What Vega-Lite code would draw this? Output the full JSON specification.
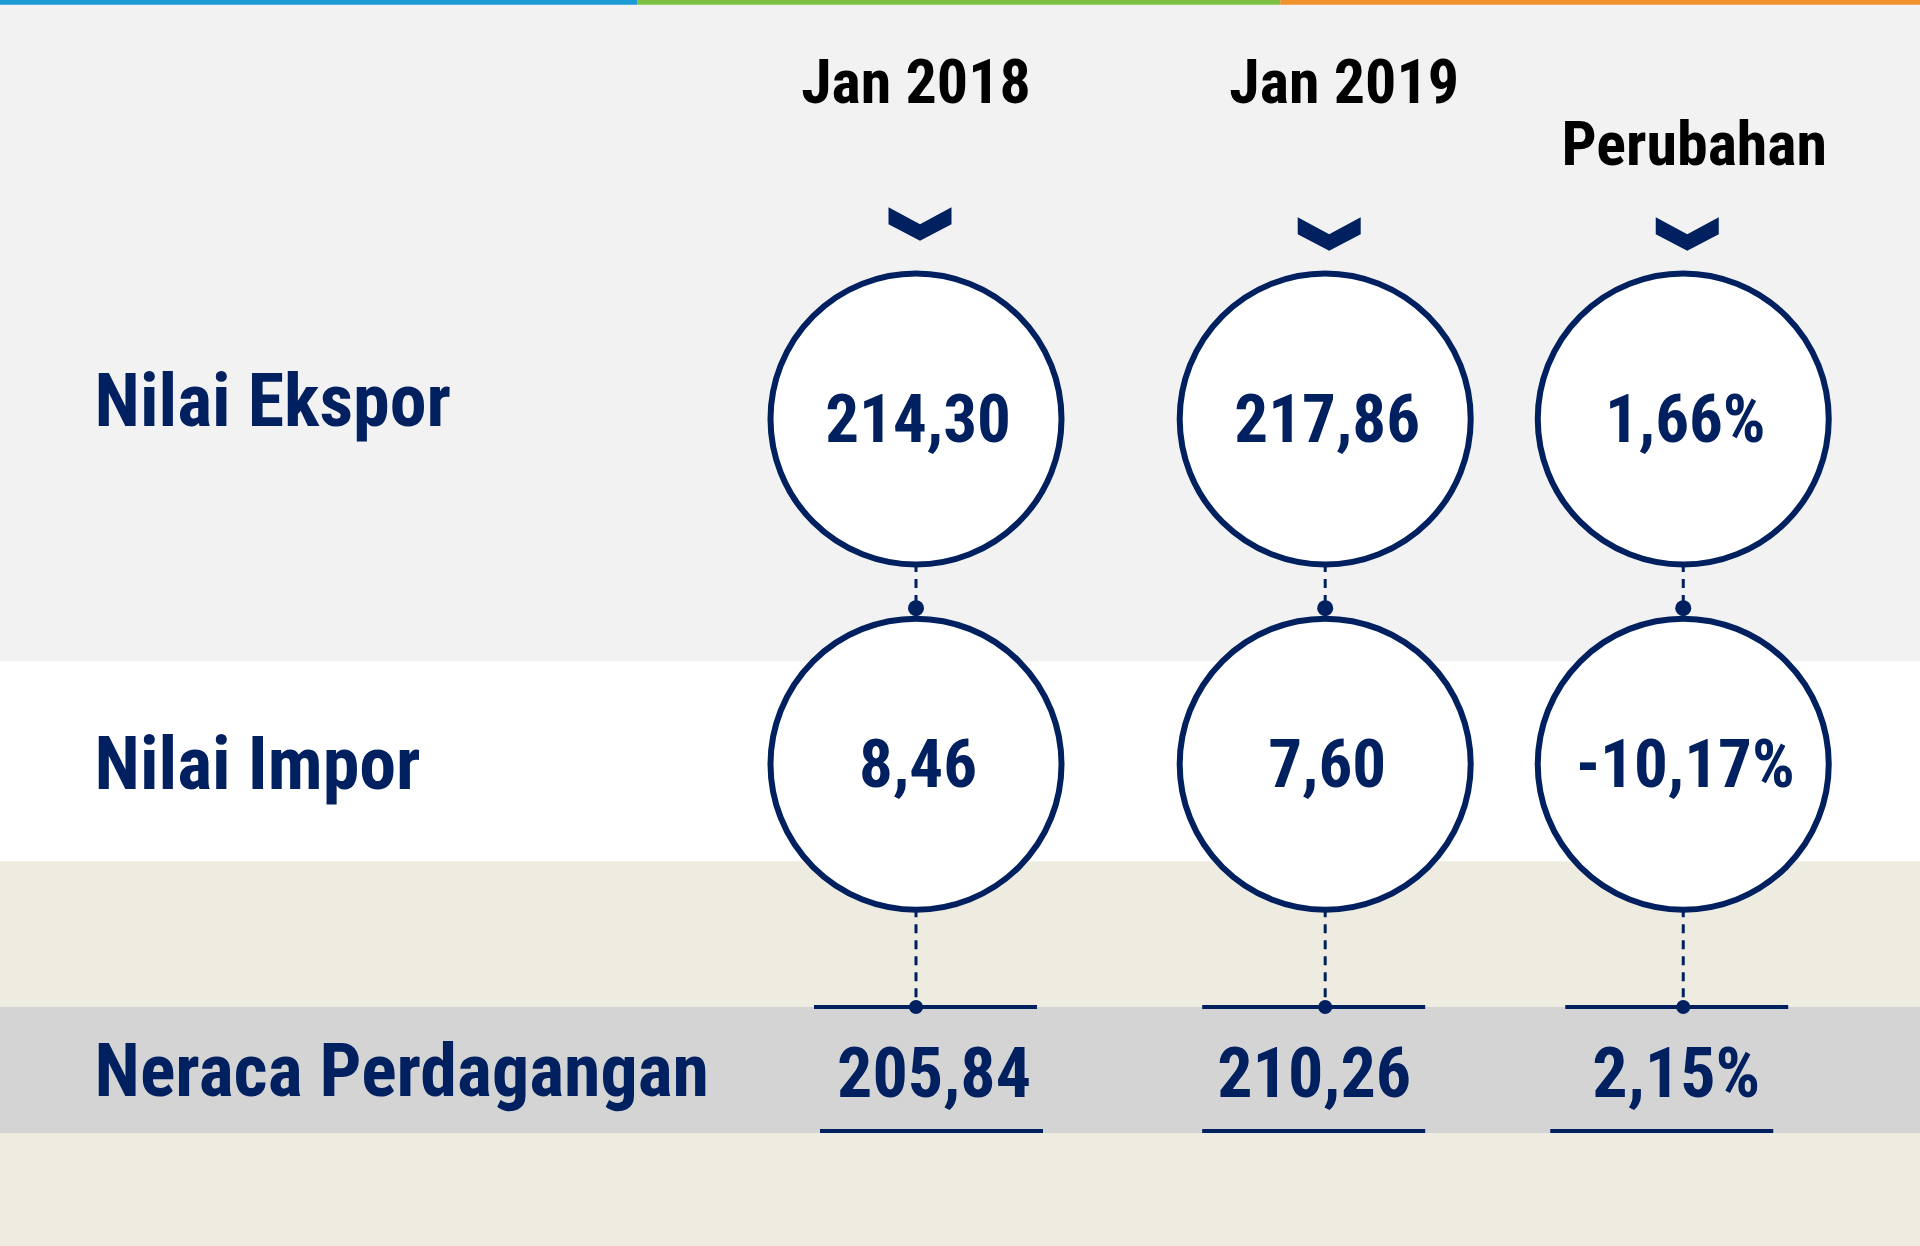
{
  "$schema": "https://vega.github.io/schema/vega-lite/v6.json",
  "width": 1920,
  "height": 1246,
  "autosize": {"type": "none"},
  "padding": 0,
  "background": "#eeece1",
  "config": {"view": {"stroke": null}},
  "data": {
    "values": [
      {"row": "Nilai Ekspor", "col": "Jan 2018", "value": "214,30"},
      {"row": "Nilai Ekspor", "col": "Jan 2019", "value": "217,86"},
      {"row": "Nilai Ekspor", "col": "Perubahan", "value": "1,66%"},
      {"row": "Nilai Impor", "col": "Jan 2018", "value": "8,46"},
      {"row": "Nilai Impor", "col": "Jan 2019", "value": "7,60"},
      {"row": "Nilai Impor", "col": "Perubahan", "value": "-10,17%"},
      {"row": "Neraca Perdagangan", "col": "Jan 2018", "value": "205,84"},
      {"row": "Neraca Perdagangan", "col": "Jan 2019", "value": "210,26"},
      {"row": "Neraca Perdagangan", "col": "Perubahan", "value": "2,15%"}
    ]
  },
  "encoding": {
    "x": {"field": "col", "type": "nominal", "axis": null,
      "scale": {"type": "point", "padding": 0, "range": [97.6, 1683.25],
        "domain": ["label","x01","x02","x03","x04","x05","x06","x07","x08","x09","x10","x11","x12","x13","x14","x15","Jan 2018","x16","x17","x18","x19","x20","x21","x22","Jan 2019","x23","x24","x25","x26","x27","x28","Perubahan"]}},
    "y": {"field": "row", "type": "nominal", "axis": null,
      "scale": {"type": "point", "padding": 0, "range": [73.85, 1070.95],
        "domain": ["hdr","y01","hdr2","y02","chev","y03","y04","y05","y06","Nilai Ekspor","y07","y08","y09","y10","y11","y12","y13","y14","Nilai Impor","y15","y16","y17","y18","y19","y20","y21","Neraca Perdagangan"]}}
  },
  "layer": [
    {
      "data": {"values": [{}]},
      "mark": {"type": "rect", "color": "#f2f2f2", "xOffset": -110, "x2Offset": 250, "yOffset": -80, "y2Offset": -103},
      "encoding": {
        "x": {"datum": "label", "type": "nominal"},
        "x2": {"datum": "Perubahan"},
        "y": {"datum": "hdr", "type": "nominal"},
        "y2": {"datum": "Nilai Impor"}
      }
    },
    {
      "data": {"values": [{}]},
      "mark": {"type": "rect", "color": "#ffffff", "xOffset": -110, "x2Offset": 250, "yOffset": -103, "y2Offset": 97},
      "encoding": {
        "x": {"datum": "label", "type": "nominal"},
        "x2": {"datum": "Perubahan"},
        "y": {"datum": "Nilai Impor", "type": "nominal"},
        "y2": {"datum": "Nilai Impor"}
      }
    },
    {
      "data": {"values": [{}]},
      "mark": {"type": "rect", "color": "#d4d4d4", "xOffset": -110, "x2Offset": 250, "yOffset": -64, "y2Offset": 62},
      "encoding": {
        "x": {"datum": "label", "type": "nominal"},
        "x2": {"datum": "Perubahan"},
        "y": {"datum": "Neraca Perdagangan", "type": "nominal"},
        "y2": {"datum": "Neraca Perdagangan"}
      }
    },
    {
      "data": {"values": [{}]},
      "mark": {"type": "rect", "color": "#1b9ad6", "xOffset": -110, "x2Offset": 28, "yOffset": -80, "y2Offset": -69},
      "encoding": {
        "x": {"datum": "label", "type": "nominal"},
        "x2": {"datum": "x10"},
        "y": {"datum": "hdr", "type": "nominal"},
        "y2": {"datum": "hdr"}
      }
    },
    {
      "data": {"values": [{}]},
      "mark": {"type": "rect", "color": "#7dc143", "xOffset": 28, "x2Offset": -45, "yOffset": -80, "y2Offset": -69},
      "encoding": {
        "x": {"datum": "x10", "type": "nominal"},
        "x2": {"datum": "Jan 2019"},
        "y": {"datum": "hdr", "type": "nominal"},
        "y2": {"datum": "hdr"}
      }
    },
    {
      "data": {"values": [{}]},
      "mark": {"type": "rect", "color": "#f0932f", "xOffset": -45, "x2Offset": 250, "yOffset": -80, "y2Offset": -69},
      "encoding": {
        "x": {"datum": "Jan 2019", "type": "nominal"},
        "x2": {"datum": "Perubahan"},
        "y": {"datum": "hdr", "type": "nominal"},
        "y2": {"datum": "hdr"}
      }
    },
    {
      "transform": [{"filter": "datum.row === 'Nilai Ekspor' && datum.col === 'Jan 2018'"}],
      "mark": {"type": "text", "font": "Roboto Condensed, Liberation Sans Narrow, DejaVu Sans Condensed, sans-serif", "fontWeight": "bold", "fontSize": 62, "color": "#000000", "align": "center", "baseline": "middle", "dy": 10},
      "encoding": {
        "y": {"datum": "hdr", "type": "nominal"},
        "text": {"field": "col"}
      }
    },
    {
      "transform": [{"filter": "datum.row === 'Nilai Ekspor' && datum.col === 'Jan 2019'"}],
      "mark": {"type": "text", "font": "Roboto Condensed, Liberation Sans Narrow, DejaVu Sans Condensed, sans-serif", "fontWeight": "bold", "fontSize": 62, "color": "#000000", "align": "center", "baseline": "middle", "dy": 10, "dx": 19},
      "encoding": {
        "y": {"datum": "hdr", "type": "nominal"},
        "text": {"field": "col"}
      }
    },
    {
      "transform": [{"filter": "datum.row === 'Nilai Ekspor' && datum.col === 'Perubahan'"}],
      "mark": {"type": "text", "font": "Roboto Condensed, Liberation Sans Narrow, DejaVu Sans Condensed, sans-serif", "fontWeight": "bold", "fontSize": 62, "color": "#000000", "align": "center", "baseline": "middle", "dy": -4.5, "dx": 11},
      "encoding": {
        "y": {"datum": "hdr2", "type": "nominal"},
        "text": {"field": "col"}
      }
    },
    {
      "transform": [{"filter": "datum.row === 'Nilai Ekspor' && datum.col === 'Jan 2018'"}],
      "mark": {"type": "point", "shape": "M-1,-0.54L0,0L1,-0.54L1,0L0,0.52L-1,0Z", "size": 3969, "filled": true, "color": "#002060", "opacity": 1, "yOffset": -3, "xOffset": 4},
      "encoding": {
        "y": {"datum": "chev", "type": "nominal"}
      }
    },
    {
      "transform": [{"filter": "datum.row === 'Nilai Ekspor' && datum.col !== 'Jan 2018'"}],
      "mark": {"type": "point", "shape": "M-1,-0.54L0,0L1,-0.54L1,0L0,0.52L-1,0Z", "size": 3969, "filled": true, "color": "#002060", "opacity": 1, "yOffset": 7, "xOffset": 4},
      "encoding": {
        "y": {"datum": "chev", "type": "nominal"}
      }
    },
    {
      "transform": [{"filter": "datum.row === 'Nilai Ekspor'"}],
      "mark": {"type": "rule", "color": "#002060", "strokeWidth": 3, "strokeDash": [9, 7]},
      "encoding": {
        "y2": {"datum": "Nilai Impor"}
      }
    },
    {
      "transform": [{"filter": "datum.row === 'Nilai Impor'"}],
      "mark": {"type": "rule", "color": "#002060", "strokeWidth": 3, "strokeDash": [9, 7], "y2Offset": -64},
      "encoding": {
        "y2": {"datum": "Neraca Perdagangan"}
      }
    },
    {
      "transform": [{"filter": "datum.row === 'Neraca Perdagangan' && datum.col === 'Jan 2018'"}],
      "mark": {"type": "rule", "color": "#002060", "strokeWidth": 4, "xOffset": -102, "x2Offset": 121, "yOffset": -64},
      "encoding": {"x2": {"field": "col"}}
    },
    {
      "transform": [{"filter": "datum.row === 'Neraca Perdagangan' && datum.col === 'Jan 2019'"}],
      "mark": {"type": "rule", "color": "#002060", "strokeWidth": 4, "xOffset": -123, "x2Offset": 100, "yOffset": -64},
      "encoding": {"x2": {"field": "col"}}
    },
    {
      "transform": [{"filter": "datum.row === 'Neraca Perdagangan' && datum.col === 'Perubahan'"}],
      "mark": {"type": "rule", "color": "#002060", "strokeWidth": 4, "xOffset": -118, "x2Offset": 105, "yOffset": -64},
      "encoding": {"x2": {"field": "col"}}
    },
    {
      "transform": [{"filter": "datum.row === 'Neraca Perdagangan' && datum.col === 'Jan 2018'"}],
      "mark": {"type": "rule", "color": "#002060", "strokeWidth": 4, "xOffset": -96, "x2Offset": 127, "yOffset": 60},
      "encoding": {"x2": {"field": "col"}}
    },
    {
      "transform": [{"filter": "datum.row === 'Neraca Perdagangan' && datum.col === 'Jan 2019'"}],
      "mark": {"type": "rule", "color": "#002060", "strokeWidth": 4, "xOffset": -123, "x2Offset": 100, "yOffset": 60},
      "encoding": {"x2": {"field": "col"}}
    },
    {
      "transform": [{"filter": "datum.row === 'Neraca Perdagangan' && datum.col === 'Perubahan'"}],
      "mark": {"type": "rule", "color": "#002060", "strokeWidth": 4, "xOffset": -133, "x2Offset": 90, "yOffset": 60},
      "encoding": {"x2": {"field": "col"}}
    },
    {
      "transform": [{"filter": "datum.row !== 'Neraca Perdagangan'"}],
      "mark": {"type": "point", "shape": "circle", "size": 84681, "filled": true, "fill": "#ffffff", "stroke": "#002060", "strokeWidth": 6, "opacity": 1, "fillOpacity": 1, "strokeOpacity": 1},
      "encoding": {}
    },
    {
      "transform": [{"filter": "datum.row === 'Nilai Impor'"}],
      "mark": {"type": "point", "shape": "circle", "size": 256, "filled": true, "color": "#002060", "opacity": 1, "yOffset": -156},
      "encoding": {}
    },
    {
      "transform": [{"filter": "datum.row === 'Neraca Perdagangan'"}],
      "mark": {"type": "point", "shape": "circle", "size": 196, "filled": true, "color": "#002060", "opacity": 1, "yOffset": -64},
      "encoding": {}
    },
    {
      "transform": [{"filter": "datum.row !== 'Neraca Perdagangan'"}],
      "mark": {"type": "text", "font": "Roboto Condensed, Liberation Sans Narrow, DejaVu Sans Condensed, sans-serif", "fontWeight": "bold", "fontSize": 67, "color": "#002060", "align": "center", "baseline": "middle", "dy": 3, "dx": 2},
      "encoding": {
        "text": {"field": "value"}
      }
    },
    {
      "transform": [{"filter": "datum.row === 'Neraca Perdagangan' && datum.col === 'Jan 2018'"}],
      "mark": {"type": "text", "font": "Roboto Condensed, Liberation Sans Narrow, DejaVu Sans Condensed, sans-serif", "fontWeight": "bold", "fontSize": 70, "color": "#002060", "align": "center", "baseline": "middle", "dy": 5, "dx": 18},
      "encoding": {"text": {"field": "value"}}
    },
    {
      "transform": [{"filter": "datum.row === 'Neraca Perdagangan' && datum.col === 'Jan 2019'"}],
      "mark": {"type": "text", "font": "Roboto Condensed, Liberation Sans Narrow, DejaVu Sans Condensed, sans-serif", "fontWeight": "bold", "fontSize": 70, "color": "#002060", "align": "center", "baseline": "middle", "dy": 5, "dx": -11},
      "encoding": {"text": {"field": "value"}}
    },
    {
      "transform": [{"filter": "datum.row === 'Neraca Perdagangan' && datum.col === 'Perubahan'"}],
      "mark": {"type": "text", "font": "Roboto Condensed, Liberation Sans Narrow, DejaVu Sans Condensed, sans-serif", "fontWeight": "bold", "fontSize": 70, "color": "#002060", "align": "center", "baseline": "middle", "dy": 5, "dx": -7},
      "encoding": {"text": {"field": "value"}}
    },
    {
      "transform": [{"filter": "datum.col === 'Jan 2018' && datum.row === 'Nilai Ekspor'"}],
      "mark": {"type": "text", "font": "Roboto Condensed, Liberation Sans Narrow, DejaVu Sans Condensed, sans-serif", "fontWeight": "bold", "fontSize": 74, "color": "#002060", "align": "left", "baseline": "middle", "dy": -15, "dx": -3},
      "encoding": {
        "x": {"datum": "label", "type": "nominal"},
        "text": {"field": "row"}
      }
    },
    {
      "transform": [{"filter": "datum.col === 'Jan 2018' && datum.row !== 'Nilai Ekspor'"}],
      "mark": {"type": "text", "font": "Roboto Condensed, Liberation Sans Narrow, DejaVu Sans Condensed, sans-serif", "fontWeight": "bold", "fontSize": 74, "color": "#002060", "align": "left", "baseline": "middle", "dy": 3, "dx": -3},
      "encoding": {
        "x": {"datum": "label", "type": "nominal"},
        "text": {"field": "row"}
      }
    }
  ]
}
